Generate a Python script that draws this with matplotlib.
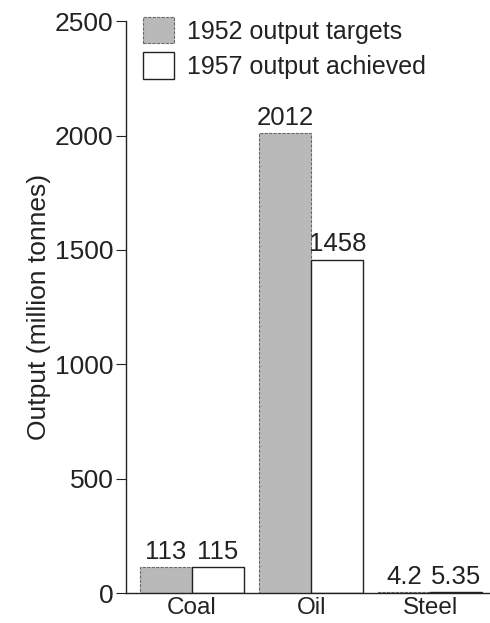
import matplotlib.pyplot as plt
import numpy as np

plt.rcParams['font.family'] = ['Liberation Sans', 'DejaVu Sans']

categories = ["Coal", "Oil", "Steel"]
targets_1952 = [113, 2012, 4.2]
achieved_1957 = [115, 1458, 5.35]
target_labels = ["113", "2012", "4.2"]
achieved_labels = ["115", "1458", "5.35"]
yticks = [0, 500, 1000, 1500, 2000, 2500]

fig = plt.figure(figsize=(4.9, 6.23), dpi=100)
ax = fig.add_axes([0.257, 0.048, 0.743, 0.918])

x = np.arange(len(categories))
w = 0.437
b1 = ax.bar(x - w / 2, targets_1952, w, color="#b9b9b9", edgecolor="#6a6a6a",
            linewidth=0.8, linestyle=(0, (3, 1)), label="1952 output targets")
b2 = ax.bar(x + w / 2, achieved_1957, w, color="white", edgecolor="#222222",
            linewidth=1.0, label="1957 output achieved")

for bars, labs in [(b1, target_labels), (b2, achieved_labels)]:
    for r, t in zip(bars, labs):
        ax.text(r.get_x() + r.get_width() / 2, r.get_height() + 14, t,
                ha="center", va="bottom", fontsize=18.5, color="#222222")

ax.set_xlim(-0.555, 2.5)
ax.set_ylim(0, 2500)
ax.set_yticks(yticks)
ax.set_xticks(x)
ax.set_xticklabels(categories)
ax.tick_params(axis="y", direction="out", length=7, width=0.8, labelsize=19,
               colors="#222222", pad=2)
ax.tick_params(axis="x", length=0, labelsize=17.5, colors="#222222", pad=3)
ax.set_ylabel("Output (million tonnes)", fontsize=19, color="#222222", labelpad=3)

for s in ["top", "right"]:
    ax.spines[s].set_visible(False)
for s in ["left", "bottom"]:
    ax.spines[s].set_linewidth(1.0)
    ax.spines[s].set_color("#222222")

leg = ax.legend(loc="upper left", bbox_to_anchor=(0.02, 1.025), frameon=False,
                fontsize=18, handlelength=1.25, handleheight=1.25,
                handletextpad=0.5, labelspacing=0.35, borderaxespad=0)
for t in leg.get_texts():
    t.set_color("#222222")

fig.savefig("out.png", dpi=100)
